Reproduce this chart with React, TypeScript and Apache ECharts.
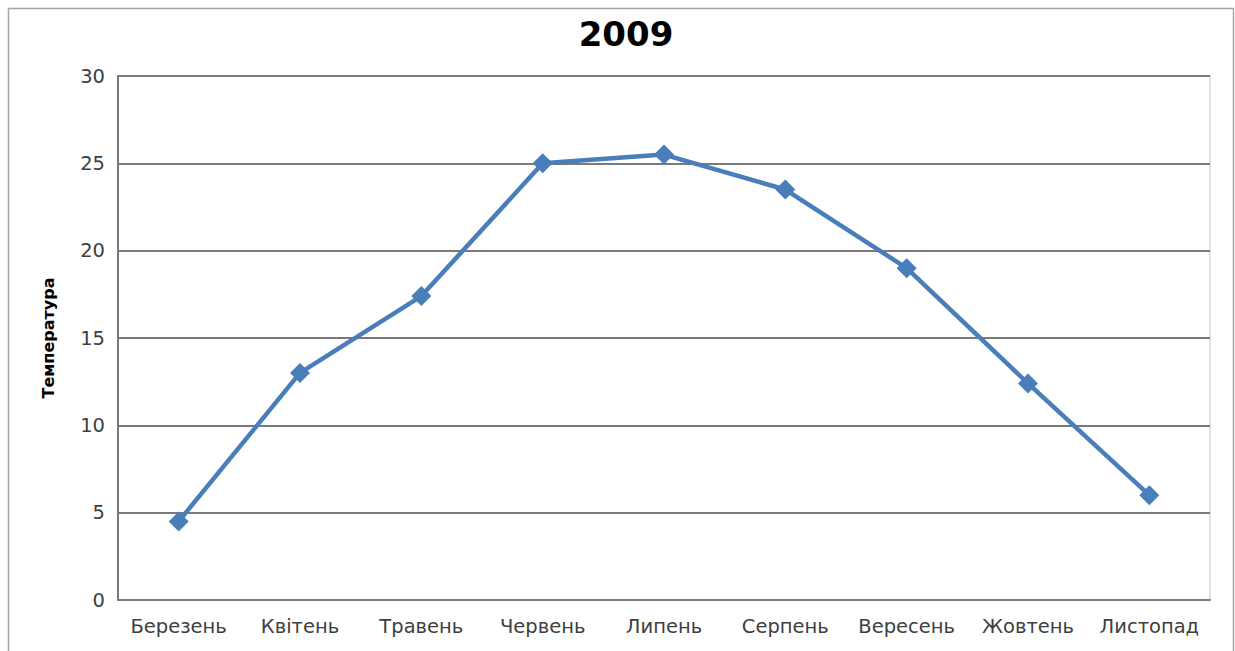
import React, { useEffect, useRef } from "react";
import * as echarts from "echarts";

// Monthly average temperature, 2009
const months = [
  "Березень",
  "Квітень",
  "Травень",
  "Червень",
  "Липень",
  "Серпень",
  "Вересень",
  "Жовтень",
  "Листопад",
];
const temperature = [4.5, 13, 17.4, 25, 25.5, 23.5, 19, 12.4, 6];
const chartTitle = "2009";
const yAxisName = "Температура";

const FONT = "'DejaVu Sans', Verdana, sans-serif";

export default function App() {
  const ref = useRef<HTMLDivElement>(null);

  useEffect(() => {
    if (!ref.current) return;
    const chart = echarts.init(ref.current, null, { renderer: "svg" });
    chart.setOption({
      animation: false,
      backgroundColor: "#ffffff",
      title: {
        text: chartTitle,
        left: 621,
        textAlign: "center",
        top: 12,
        textStyle: {
          fontFamily: FONT,
          fontSize: 34,
          fontWeight: "bold",
          color: "#000000",
        },
      },
      graphic: [
        {
          type: "rect",
          shape: { x: 8.5, y: 8.5, width: 1225, height: 660 },
          style: { fill: "none", stroke: "#a6a6a6", lineWidth: 1.5 },
          silent: true,
          z: -1,
        },
      ],
      grid: {
        left: 118,
        right: 25,
        top: 76,
        bottom: 51,
        show: true,
        borderColor: "#d9d9d9",
        borderWidth: 1.5,
      },
      xAxis: {
        type: "category",
        data: months,
        boundaryGap: true,
        axisLine: { show: true, lineStyle: { color: "#7a7a7a", width: 2 } },
        axisTick: { show: false },
        axisLabel: {
          fontFamily: FONT,
          fontSize: 19.5,
          color: "#404040",
          margin: 16,
          interval: 0,
        },
      },
      yAxis: {
        type: "value",
        min: 0,
        max: 30,
        interval: 5,
        name: yAxisName,
        nameLocation: "middle",
        nameGap: 62,
        nameRotate: 90,
        nameTextStyle: {
          fontFamily: FONT,
          fontSize: 16,
          fontWeight: "bold",
          color: "#000000",
        },
        axisLine: { show: true, lineStyle: { color: "#7a7a7a", width: 2 } },
        axisTick: { show: false },
        splitLine: { show: true, lineStyle: { color: "#7a7a7a", width: 2 } },
        axisLabel: {
          fontFamily: FONT,
          fontSize: 19.5,
          color: "#404040",
          margin: 13,
        },
      },
      series: [
        {
          type: "line",
          data: temperature,
          symbol: "diamond",
          symbolSize: 20,
          lineStyle: { color: "#4a7ebb", width: 4.5 },
          itemStyle: { color: "#4a7ebb" },
        },
      ],
    });
    return () => chart.dispose();
  }, []);

  return (
    <div
      ref={ref}
      style={{ position: "fixed", left: 0, top: 0, width: 1235, height: 651 }}
    />
  );
}
